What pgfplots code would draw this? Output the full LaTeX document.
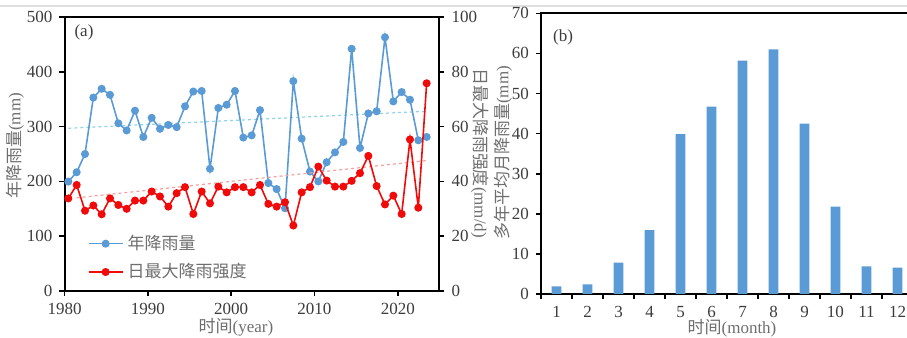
\documentclass[border=0pt]{standalone}
\usepackage{pgfplots}
\pgfplotsset{compat=1.18}
\usepackage{pgfplotstable}
\usepackage{fontspec}
\setmainfont{Liberation Serif}
\newfontfamily\cjk{Noto Sans CJK SC}
\definecolor{lineblue}{HTML}{5B9BD5}
\definecolor{trendblue}{HTML}{8FD3EA}
\definecolor{linered}{HTML}{F00A0A}
\definecolor{trendred}{HTML}{F2A0A0}
\definecolor{ticktext}{HTML}{3C3C3C}
\definecolor{labeltext}{HTML}{6E6E6E}

\pgfplotstableread{
year rain maxi
1980 199.6 33.8
1981 216.7 38.7
1982 250 29.3
1983 353 31.2
1984 369 28.0
1985 358 33.8
1986 306 31.4
1987 293 30.0
1988 329 33.0
1989 281 33.0
1990 316 36.3
1991 296 34.5
1992 303 30.8
1993 299 35.7
1994 337 37.9
1995 364 28.1
1996 365 36.3
1997 223 32.0
1998 334 38.1
1999 340 36.0
2000 365 37.9
2001 280 37.9
2002 284 36.0
2003 330 38.7
2004 197 31.8
2005 186 30.8
2006 151 32.4
2007 383 23.9
2008 278 36.0
2009 218 37.9
2010 200 45.4
2011 235 40.3
2012 253 38.1
2013 272 38.1
2014 442 40.2
2015 261 43.0
2016 324 49.3
2017 328 38.3
2018 463 31.6
2019 346 34.8
2020 363 28.1
2021 349 55.3
2022 275 30.4
2023 281 75.8
}\annual

\pgfplotstableread{
month rain
1 1.9
2 2.4
3 7.8
4 15.9
5 39.9
6 46.7
7 58.2
8 61.0
9 42.5
10 21.8
11 6.9
12 6.6
}\monthly

\pgfplotsset{
  common/.style={
    scale only axis,
    tick align=outside,
    major tick length=2.5pt,
    tick style={black, line width=0.8pt},
    axis line style={line width=1pt},
    ticklabel style={font=\fontsize{8.5}{10}\selectfont, text=ticktext},
    /pgf/number format/assume math mode=true,
  }
}

\begin{document}
\begin{tikzpicture}
\path[use as bounding box] (0pt,0pt) rectangle (453.5pt,169pt);
\clip (0pt,0pt) rectangle (453.5pt,169pt);
\draw[gray!25, line width=0.6pt] (0pt,166pt) -- (453.5pt,166pt);

% ---------- (a) left axis ----------
\begin{axis}[common,
  at={(32.25pt,23.5pt)}, anchor=south west,
  width=187.5pt, height=137pt,
  xmin=1980, xmax=2025, ymin=0, ymax=500,
  xtick={1980,1990,2000,2010,2020}, ytick={0,100,...,500},
  xtick pos=left, ytick pos=left,
  xticklabel style={/pgf/number format/1000 sep={}},
]
\addplot[trendblue, line width=0.6pt, dash pattern=on 1.5pt off 1.5pt, x filter/.expression={x+0.46}]
  coordinates {(1980,297) (2023,328)};
\addplot[lineblue, line width=0.8pt, mark=*, mark size=1.6pt, mark options={solid, fill=lineblue, draw=lineblue},
  x filter/.expression={x+0.46}] table[x=year, y=rain] {\annual};
\end{axis}

% ---------- (a) right axis ----------
\begin{axis}[common,
  at={(32.25pt,23.5pt)}, anchor=south west,
  width=187.5pt, height=137pt,
  xmin=1980, xmax=2025, ymin=0, ymax=100,
  axis x line=none, axis y line*=right,
  ytick={0,20,...,100},
  legend style={draw=none, fill=none, at={(0.045,0.235)}, anchor=north west,
    font=\cjk\fontsize{8.5}{10}\selectfont, text=labeltext, row sep=1.5pt,
    /tikz/every even column/.append style={column sep=2pt}},
  legend cell align=left,
]
\addlegendimage{lineblue, line width=0.8pt, mark=*, mark size=1.6pt, mark options={solid, fill=lineblue, draw=lineblue}}
\addlegendentry{年降雨量}
\addplot[trendred, line width=0.6pt, dash pattern=on 1.5pt off 1.5pt, x filter/.expression={x+0.46}, forget plot]
  coordinates {(1981,34) (2023,47.6)};
\addplot[linered, line width=0.8pt, mark=*, mark size=1.6pt, mark options={solid, fill=linered, draw=linered},
  x filter/.expression={x+0.46}] table[x=year, y=maxi] {\annual};
\addlegendentry{日最大降雨强度}
\end{axis}

% ---------- (b) ----------
\begin{axis}[common,
  at={(270.5pt,22pt)}, anchor=south west,
  width=186pt, height=140.35pt,
  xmin=0.5, xmax=12.5, ymin=0, ymax=70,
  ytick={0,10,...,70}, ytick pos=left, xtick pos=left,
  xtick={0.5,1.5,...,12.5}, xticklabels={},
  extra x ticks={1,2,...,12},
  extra x tick labels={1,2,3,4,5,6,7,8,9,10,11,12},
  extra x tick style={xtick style={draw=none}},
]
\addplot[ybar, bar width=4.85pt, fill=lineblue, draw=none] table[x=month, y=rain] {\monthly};
\end{axis}

% ---------- labels ----------
\node[rotate=90, text=labeltext, font=\fontsize{8.5}{10}\selectfont] at (7.5pt,96pt) {{\cjk 年降雨量}(mm)};
\node[rotate=-90, text=labeltext, font=\fontsize{8.5}{10}\selectfont] at (240pt,92.5pt) {{\cjk 日最大降雨强度}(mm/d)};
\node[rotate=90, text=labeltext, font=\fontsize{8.5}{10}\selectfont] at (251.5pt,92.5pt) {{\cjk 多年平均月降雨量}(mm)};
\node[text=labeltext, font=\fontsize{8.5}{10}\selectfont] at (118pt,5.5pt) {{\cjk 时间}(year)};
\node[text=labeltext, font=\fontsize{8.5}{10}\selectfont] at (366pt,5pt) {{\cjk 时间}(month)};
\node[text=ticktext, font=\fontsize{8.5}{10}\selectfont] at (42pt,153pt) {(a)};
\node[text=ticktext, font=\fontsize{8.5}{10}\selectfont] at (281.5pt,150.5pt) {(b)};
\end{tikzpicture}
\end{document}
